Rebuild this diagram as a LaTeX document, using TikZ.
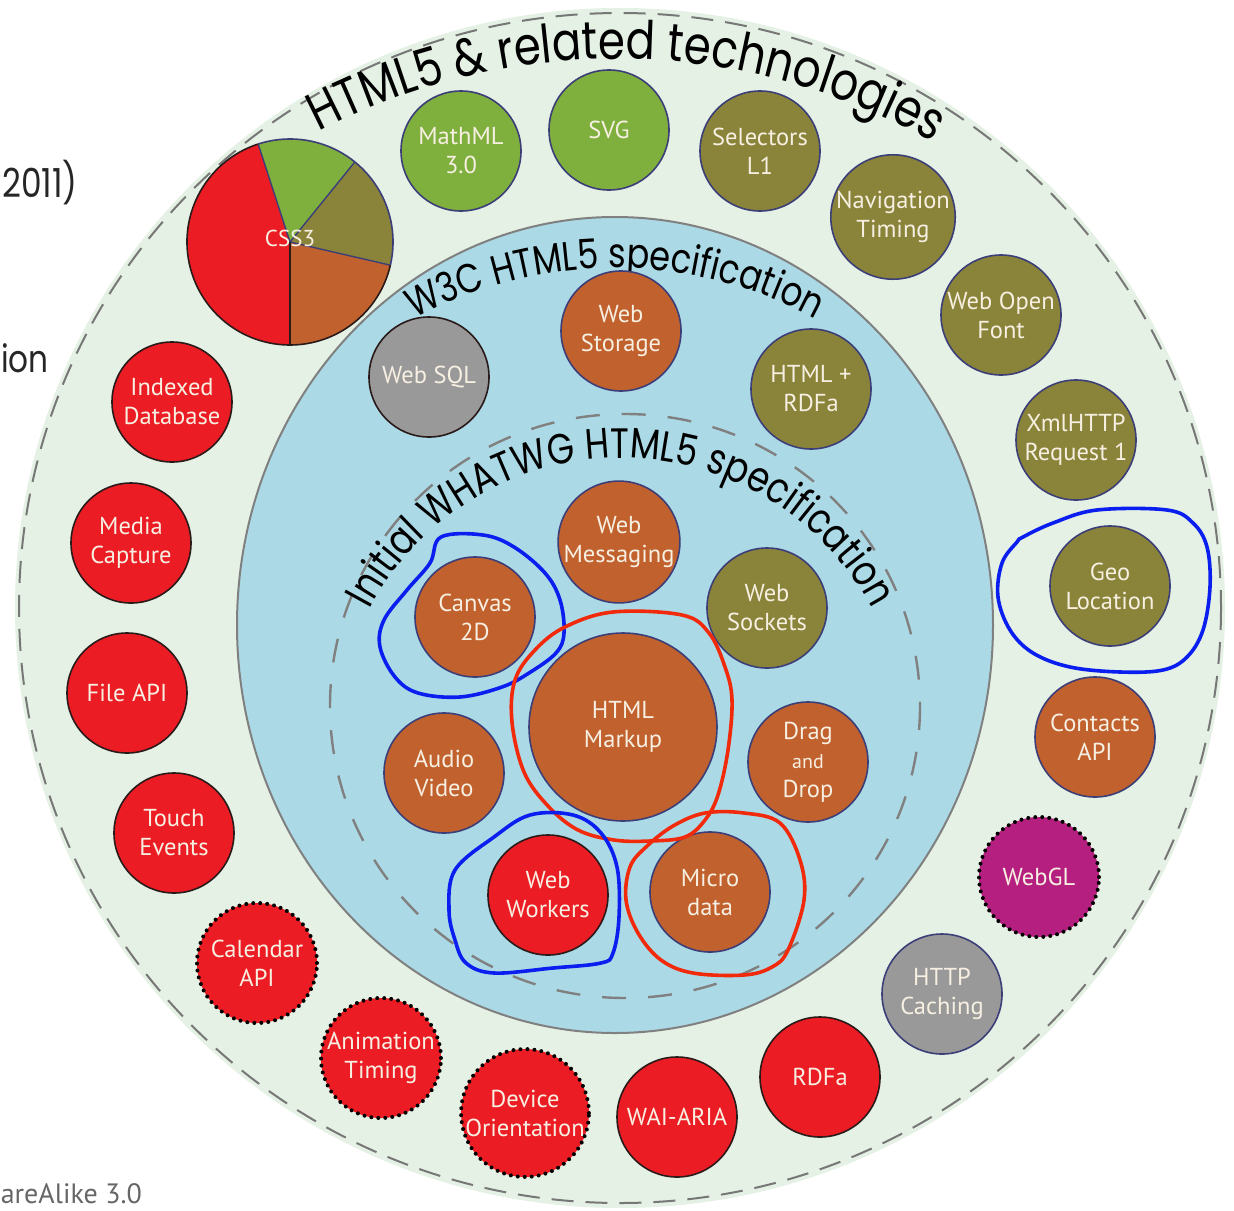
\documentclass[tikz,border=0pt]{standalone}
\usepackage{fontspec}
\setmainfont{PT Sans}
\newfontfamily\labelfont{PT Sans}
\newfontfamily\titlefont{Poppins}[FakeStretch=0.82]
\usetikzlibrary{decorations.text}
\definecolor{outerfill}{HTML}{E4F1E4}
\definecolor{bluefill}{HTML}{ABDAE6}
\definecolor{cRed}{HTML}{EC1C24}
\definecolor{cGreen}{HTML}{7FB03E}
\definecolor{cOlive}{HTML}{8A843A}
\definecolor{cOrange}{HTML}{C1612E}
\definecolor{cGrey}{HTML}{999999}
\definecolor{cMag}{HTML}{B51F80}
\definecolor{rim}{HTML}{3C3E78}
\definecolor{redrim}{HTML}{2A1A1A}
\definecolor{labeltxt}{HTML}{F7F0E2}
\definecolor{dashgrey}{HTML}{777777}
\definecolor{handblue}{HTML}{0A1EF0}
\definecolor{handred}{HTML}{F22A0C}
\tikzset{
  bub/.style={circle, inner sep=0pt, minimum size=120pt, align=center,
    font=\labelfont\fontsize{24.5}{29}\selectfont, text=labeltxt, draw=rim, line width=1.6pt},
  gbub/.style={bub, fill=cGreen},
  obub/.style={bub, fill=cOlive},
  rbub/.style={bub, fill=cOrange},
  ebub/.style={bub, fill=cRed, draw=redrim},
  ybub/.style={bub, fill=cGrey},
  mbub/.style={bub, fill=cMag},
  dotb/.style={draw=black, line width=4pt, dash pattern=on 0pt off 7pt, line cap=round},
  handloop/.style={line width=3.6pt, line join=round, line cap=round},
  frag/.style={inner sep=0pt}
}
\begin{document}
\begin{tikzpicture}[x=1pt,y=-1pt]
\useasboundingbox (0,0) rectangle (1234,1210);
\begin{scope}
\clip (0,0) rectangle (1234,1210);
% outer ring
\fill[outerfill] (620,608) ellipse [x radius=605, y radius=600];
\draw[dashgrey, line width=2pt, dash pattern=on 22pt off 12pt] (620,608) ellipse [x radius=601, y radius=595];
% W3C ring
\fill[bluefill] (615,625) ellipse [x radius=378, y radius=408];
\draw[gray, line width=2pt] (615,625) ellipse [x radius=378, y radius=408];
% WHATWG dashed
\draw[gray, line width=2.4pt, dash pattern=on 24pt off 22pt] (625,706) ellipse [x radius=295, y radius=292];

% left cut-off texts
\node[frag, anchor=base east, font=\titlefont\fontsize{40}{40}\selectfont, text=black!85] (t2011) at (78,197) {2011)};
\node[frag, anchor=base west, font=\titlefont\fontsize{38}{38}\selectfont, text=black!85] (tion) at (1,372) {ion};
\node[frag, anchor=base east, font=\labelfont\fontsize{28}{28}\selectfont, text=black!60] (tlic) at (142,1203) {areAlike 3.0};
\end{scope}

% curved titles
\path[decorate, decoration={text along path, text align=center,
  text={|\titlefont\fontsize{53}{53}\selectfont|HTML5 {\&} related technologies}}]
  (616,701) ++(-134:642) arc[start angle=-134, end angle=-44, radius=642];
\path[decorate, decoration={text along path, text align=center,
  text={|\titlefont\fontsize{41}{41}\selectfont|W3C HTML5 specification}}]
  (615,688) ++(-135:420) arc[start angle=-135, end angle=-45, radius=420];
\path[decorate, decoration={text along path, text align=center,
  text={|\titlefont\fontsize{42.5}{42.5}\selectfont|Initial WHATWG HTML5 specification}}]
  (621,742) ++(-175:284) arc[start angle=-175, end angle=-5, radius=284];

% CSS3 pie
\fill[cRed] (290,242) -- ++(-108:103) arc[start angle=-108, end angle=-270, radius=103] -- cycle;
\fill[cGreen] (290,242) -- ++(-51:103) arc[start angle=-51, end angle=-108, radius=103] -- cycle;
\fill[cOlive] (290,242) -- ++(13:103) arc[start angle=13, end angle=-51, radius=103] -- cycle;
\fill[cOrange] (290,242) -- ++(90:103) arc[start angle=90, end angle=13, radius=103] -- cycle;
\draw[rim, line width=1.4pt] (290,242) -- ++(-108:103) (290,242) -- ++(-51:103) (290,242) -- ++(13:103);
\draw[redrim, line width=1.4pt] (290,242) -- ++(90:103);
\draw[redrim, line width=1.6pt] (290,242) ++(-108:103) arc[start angle=-108, end angle=-270, radius=103] arc[start angle=-270, end angle=-347, radius=103];
\draw[rim, line width=1.6pt] (290,242) ++(13:103) arc[start angle=13, end angle=-108, radius=103];
\node[font=\labelfont\fontsize{23}{23}\selectfont, text=labeltxt] (css3) at (290,238) {CSS3};

% outer ring nodes
\node[gbub] (mathml) at (461,151) {MathML\\3.0};
\node[gbub] (svg) at (609,130) {SVG};
\node[obub] (selectors) at (760,151) {Selectors\\L1};
\node[obub] (navtiming) at (893,217) {Navigation\\Timing};
\node[obub] (webfont) at (1001,315) {Web Open\\Font};
\node[obub] (xhr) at (1076,440) {XmlHTTP\\Request 1};
\node[obub] (geo) at (1110,586) {Geo\\Location};
\node[rbub] (contacts) at (1095,737) {Contacts\\API};
\node[mbub, dotb] (webgl) at (1039,877) {WebGL};
\node[ybub] (httpcache) at (942,994) {HTTP\\Caching};
\node[ebub] (rdfa) at (820,1077) {RDFa};
\node[ebub] (waiaria) at (677,1117) {WAI-ARIA};
\node[ebub, dotb] (devor) at (525,1113) {Device\\Orientation};
\node[ebub, dotb] (animtiming) at (381,1058) {Animation\\Timing};
\node[ebub, dotb] (calendar) at (257,963) {Calendar\\API};
\node[ebub] (touch) at (174,833) {Touch\\Events};
\node[ebub] (fileapi) at (127,693) {File API};
\node[ebub] (mediacap) at (131,543) {Media\\Capture};
\node[ebub] (indexeddb) at (172,402) {Indexed\\Database};

% W3C ring nodes
\node[ybub, draw=redrim] (websql) at (429,377) {Web SQL};
\node[rbub] (webstorage) at (621,331) {Web\\Storage};
\node[obub] (htmlrdfa) at (811,389) {HTML +\\RDFa};

% WHATWG nodes
\node[rbub] (webmsg) at (619,542) {Web\\Messaging};
\node[obub] (websockets) at (767,608) {Web\\Sockets};
\node[rbub] (canvas) at (475,617) {Canvas\\2D};
\node[rbub, minimum size=188pt] (markup) at (623,727) {HTML\\Markup};
\node[rbub] (audiovideo) at (444,773) {Audio\\Video};
\node[rbub] (dragdrop) at (808,762) {Drag\\{\fontsize{20}{22}\selectfont and}\\Drop};
\node[ebub] (workers) at (548,895) {Web\\Workers};
\node[rbub] (microdata) at (710,892) {Micro\\data};

% hand-drawn annotations
\draw[handloop, handblue] plot[smooth cycle, tension=0.6] coordinates {(441,537) (483,535) (514,547) (545,573) (560,600) (564,633) (556,653) (529,673) (502,687) (460,697) (418,693) (395,677) (380,647) (384,620) (407,590) (430,563)};
\draw[handloop, handred] plot[smooth cycle, tension=0.6] coordinates {(613,612) (682,615) (709,633) (725,667) (732,700) (728,750) (718,795) (705,820) (685,837) (650,841) (614,840) (578,830) (548,806) (524,772) (512,722) (515,680) (535,650) (565,627)};
\draw[handloop, handred] plot[smooth cycle, tension=0.6] coordinates {(673,826) (705,813) (744,813) (780,823) (800,860) (804,900) (788,950) (772,967) (744,975) (693,973) (661,960) (638,933) (626,900) (630,867) (646,847)};
\draw[handloop, handblue] plot[smooth cycle, tension=0.6] coordinates {(530,815) (573,815) (601,833) (617,867) (619,917) (613,953) (601,963) (553,968) (494,973) (466,963) (455,940) (449,910) (455,870) (494,837)};
\draw[handloop, handblue] plot[smooth cycle, tension=0.6] coordinates {(1023,537) (1053,523) (1097,510) (1167,510) (1193,523) (1207,547) (1210,587) (1203,630) (1187,657) (1163,670) (1120,672) (1070,667) (1033,653) (1010,630) (998,597) (1002,563) (1017,542)};
\end{tikzpicture}
\end{document}
